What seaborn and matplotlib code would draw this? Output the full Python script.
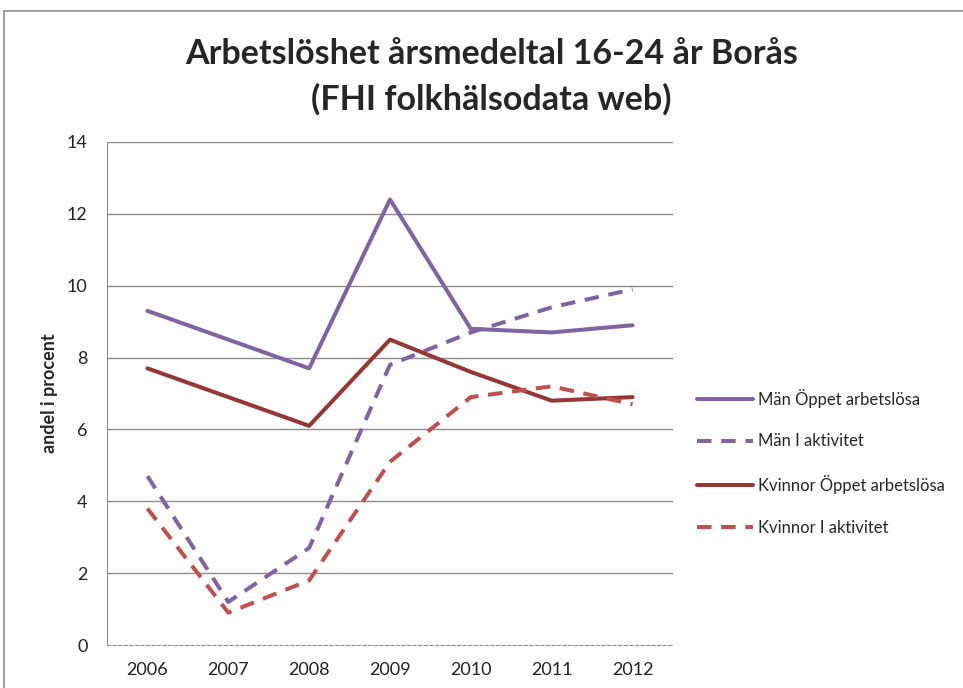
import pandas as pd
import numpy as np

import seaborn as sns
import matplotlib.pyplot as plt
from matplotlib.patches import Rectangle

years = [2006, 2007, 2008, 2009, 2010, 2011, 2012]
man_oppet = [9.3, 8.5, 7.7, 12.4, 8.8, 8.7, 8.9]
man_aktivitet = [4.7, 1.2, 2.7, 7.8, 8.7, 9.4, 9.9]
kvinnor_oppet = [7.7, 6.9, 6.1, 8.5, 7.6, 6.8, 6.9]
kvinnor_aktivitet = [3.8, 0.9, 1.8, 5.1, 6.9, 7.2, 6.7]

series_names = ["Män Öppet arbetslösa", "Män I aktivitet",
                "Kvinnor Öppet arbetslösa", "Kvinnor I aktivitet"]
y_ticks = [0, 2, 4, 6, 8, 10, 12, 14]


def main():
    df = pd.DataFrame({
        "year": years * 4,
        "value": man_oppet + man_aktivitet + kvinnor_oppet + kvinnor_aktivitet,
        "serie": np.repeat(series_names, len(years)),
    })

    sns.set_style("white")
    plt.rcParams['font.family'] = ['Lato', 'DejaVu Sans']

    fig = plt.figure(figsize=(9.63, 6.88), dpi=100)
    # chart border like the excel chart area
    fig.patches.append(Rectangle((4 / 963, -0.05), 1.0, 1 - 11 / 688 + 0.05,
                                 transform=fig.transFigure, fill=False,
                                 edgecolor="#8c8c8c", linewidth=1.2))
    ax = fig.add_axes([107 / 963, 43 / 688, 566 / 963, 503 / 688])

    palette = {series_names[0]: "#8064A2", series_names[1]: "#8064A2",
               series_names[2]: "#953735", series_names[3]: "#C0504D"}
    dashes = {series_names[0]: "", series_names[1]: (3.6, 2.4),
              series_names[2]: "", series_names[3]: (3.6, 2.4)}

    sns.lineplot(data=df, x="year", y="value", hue="serie", style="serie",
                 palette=palette, dashes=dashes, linewidth=2.9, ax=ax,
                 hue_order=series_names, style_order=series_names)

    ax.set_xlim(2005.5, 2012.5)
    ax.set_ylim(0, 14)
    ax.set_xticks(years)
    ax.set_xticklabels([str(y) for y in years], fontsize=13, color="#222222")
    ax.set_yticks(y_ticks)
    ax.set_yticklabels([str(t) for t in y_ticks], fontsize=13, color="#222222")
    ax.tick_params(axis="x", length=0, pad=12)
    ax.tick_params(axis="y", length=0, pad=14)

    for t in y_ticks[1:]:
        ax.axhline(t, color="#8c8c8c", linewidth=1.0, zorder=0)

    ax.spines["top"].set_visible(False)
    ax.spines["right"].set_visible(False)
    ax.spines["left"].set_color("#8c8c8c")
    ax.spines["bottom"].set_color("#8c8c8c")
    ax.spines["bottom"].set_linestyle((0, (3, 2)))
    ax.spines["bottom"].set_linewidth(0.8)

    ax.set_xlabel("")
    ax.set_ylabel("andel i procent", fontsize=13, fontweight="bold", labelpad=6)

    fig.suptitle("Arbetslöshet årsmedeltal 16-24 år Borås\n(FHI folkhälsodata web)",
                 fontsize=24.5, fontweight="bold", x=0.51, y=0.945, linespacing=1.5)

    leg = ax.legend(loc="center left", bbox_to_anchor=(1.03, 0.363), frameon=False,
                    fontsize=12, handlelength=3.4, labelspacing=1.55,
                    handletextpad=0.3, borderaxespad=0)
    for line in leg.get_lines():
        line.set_linewidth(2.9)

    plt.savefig("out.png", dpi=100)


if __name__ == "__main__":
    main()
